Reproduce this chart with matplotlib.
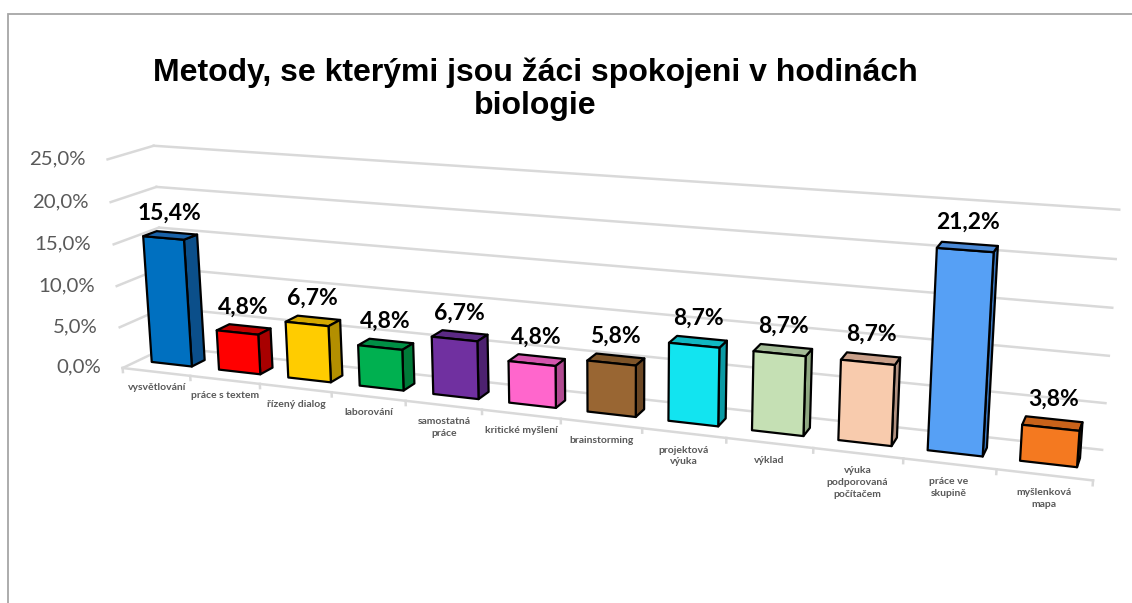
import numpy as np
import matplotlib
matplotlib.use("Agg")
import matplotlib.pyplot as plt
from matplotlib.patches import Rectangle
from mpl_toolkits.mplot3d.art3d import Poly3DCollection

categories = ["vysvětlování", "práce s textem", "řízený dialog", "laborování",
              "samostatná\npráce", "kritické myšlení", "brainstorming",
              "projektová\nvýuka", "výklad", "výuka\npodporovaná\npočítačem",
              "práce ve\nskupině", "myšlenková\nmapa"]
values = [15.4, 4.8, 6.7, 4.8, 6.7, 4.8, 5.8, 8.7, 8.7, 8.7, 21.2, 3.8]
front_colors = ["#0070c0", "#ff0000", "#ffcc00", "#00b050", "#7030a0", "#ff66cc",
                "#996633", "#12e4f0", "#c5e0b4", "#f8cbad", "#56a0f5", "#f47920"]
side_colors = ["#0b4f8a", "#a80000", "#b38f00", "#007a38", "#4d2170", "#b04a90",
               "#6b4724", "#0a9aa4", "#8fa882", "#b09080", "#3c78c0", "#b35a18"]
top_colors = ["#1a62a8", "#c00000", "#d4a800", "#008f45", "#5c2a85", "#d455ad",
              "#7d5429", "#10b8c2", "#a3bb96", "#c9a08a", "#4a88d4", "#c8621a"]
yticks = [0, 5, 10, 15, 20, 25]
title = "Metody, se kterými jsou žáci spokojeni v hodinách\nbiologie"

n = len(values)


def pct(v):
    return f"{v:.1f}%".replace(".", ",")


fig = plt.figure(figsize=(11.32, 6.03), dpi=100)

# 3D column chart: x = category, y = depth (front 0 .. back 1), z = value
ax = fig.add_axes([0.1909, -0.0871, 0.61837, 1.16086], projection="3d",
                  proj_type="persp", focal_length=0.4835)
ax.set_xlim(0, n)
ax.set_ylim(0, 1)
ax.set_zlim(0, 25)
box = np.array([2.7103, 0.2294, 0.6102])
ax.set_box_aspect(box, zoom=np.linalg.norm(box) / 1.90569)
ax.view_init(elev=14.775, azim=-69.158, roll=0.356)
ax.set_xticks([])
ax.set_yticks([])
ax.set_zticks([])
ax.set_axis_off()
ax.computed_zorder = False

# back wall and side wall gridlines, floor edge with category ticks
grid_kw = dict(color="#d9d9d9", lw=1.8, zorder=1, clip_on=False)
for v in yticks:
    ax.plot([0, n], [1, 1], [v, v], **grid_kw)
    ax.plot([0, 0], [0, 1], [v, v], **grid_kw)
    ax.text(-0.33, 0, v, pct(v), ha="right", va="center_baseline",
            fontsize=14.7, color="#595959", family="Lato", zorder=3)
ax.plot([0, n], [0, 0], [0, 0], **grid_kw)
for k in range(n + 1):
    ax.plot([k, k], [0, 0], [0, -0.5], **grid_kw)

# columns: only the faces turned to the viewer (side, top, front)
bw, d0, d1 = 0.6, 0.35, 0.65
faces, fcs = [], []
for i, v in enumerate(values):
    x0, x1 = i + 0.5 - bw / 2, i + 0.5 + bw / 2
    faces.append([(x1, d0, 0), (x1, d1, 0), (x1, d1, v), (x1, d0, v)])
    fcs.append(side_colors[i])
    faces.append([(x0, d0, v), (x1, d0, v), (x1, d1, v), (x0, d1, v)])
    fcs.append(top_colors[i])
    faces.append([(x0, d0, 0), (x1, d0, 0), (x1, d0, v), (x0, d0, v)])
    fcs.append(front_colors[i])
bars = Poly3DCollection(faces, facecolors=fcs, edgecolors="black",
                        linewidths=1.6, zorder=2)
ax.add_collection3d(bars)
bars.set_clip_on(False)

for i, v in enumerate(values):
    ax.text(i + 0.5, 0.5, v + 1.9, pct(v), ha="center", va="baseline",
            fontsize=16.5, fontweight="bold", family="Lato", zorder=3)
    ax.text(i + 0.5, 0, -1.4, categories[i], ha="center", va="top", ma="center",
            fontsize=7.5, fontweight="bold", color="#595959", family="Lato",
            linespacing=1.4, zorder=3)

fig.text(535 / 1132, 1 - 58 / 603, title, ha="center", va="top", ma="center",
         fontsize=23, fontweight="bold", family="Liberation Sans", linespacing=1.1)

# chart area border
fig.add_artist(Rectangle((8 / 1132, -0.1), 1.2, 589 / 603 + 0.1,
                         transform=fig.transFigure, fill=False, ec="#a6a6a6", lw=1.3))

fig.savefig("out.png", dpi=100)
